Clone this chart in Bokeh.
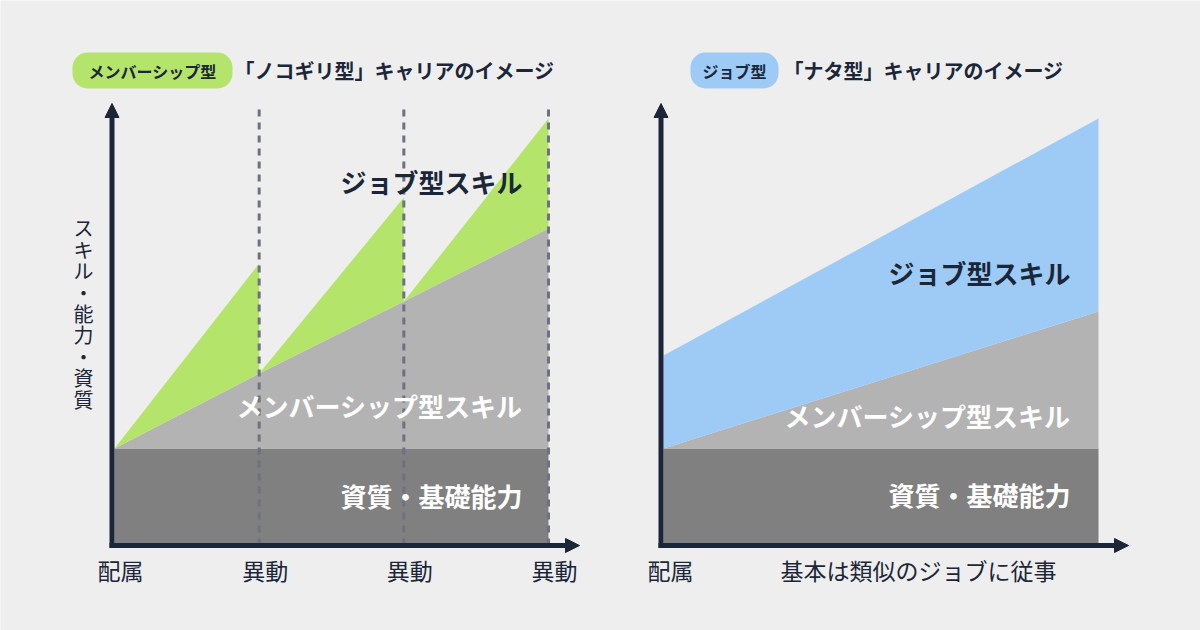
from bokeh.plotting import figure
from bokeh.models import Range1d, Arrow, NormalHead
from bokeh.core.properties import value
from bokeh.embed import file_html
from bokeh.resources import INLINE

BG = "#eeeeee"
NAVY = "#1b2639"
DARK = "#808080"
LIGHT = "#b3b3b3"
GREEN = "#b4e46a"
BLUE = "#9ecbf5"
DASH = "#6f7080"
FONT = "Noto Sans CJK JP"

# ---- Left panel: 「ノコギリ型」 (membership type) ----
saw_stages = [0, 1, 2, 3]
saw_ticks = ["配属", "異動", "異動", "異動"]
saw_base = 0.97
saw_member = [0.97, 1.72, 2.44, 3.17]
saw_job_peak = [0.97, 2.82, 3.48, 4.27]
saw_badge = "メンバーシップ型"
saw_title = "「ノコギリ型」キャリアのイメージ"
y_label = "スキル・能力・資質"

# ---- Right panel: 「ナタ型」 (job type) ----
nata_x = [0.0, 1.0]
nata_tick_pos = [0.0, 0.57]
nata_ticks = ["配属", "基本は類似のジョブに従事"]
nata_base = 0.97
nata_member = [0.97, 2.34]
nata_job = [1.90, 4.27]
nata_badge = "ジョブ型"
nata_title = "「ナタ型」キャリアのイメージ"

area_labels = ["ジョブ型スキル", "メンバーシップ型スキル", "資質・基礎能力"]

Y0, Y1 = -0.85, 5.45  # 100 px per unit
W, H = 1200, 630

ppuL = 434 / 3          # px per stage, left panel
xl0 = -114 / ppuL
ppuR = 435              # px per unit, right panel
xr0 = -663 / ppuR

p = figure(width=W, height=H, x_range=Range1d(xl0, xl0 + W / ppuL), y_range=Range1d(Y0, Y1),
           output_backend="svg", toolbar_location=None, min_border=0,
           x_axis_location=None, y_axis_location=None,
           background_fill_color=BG, border_fill_color=BG, outline_line_color=None)
p.extra_x_ranges = {"r": Range1d(xr0, xr0 + W / ppuR)}
p.grid.visible = False


def axes(xmin, xtip, ytip, ppu, rn="default"):
    ax = xmin - 2.5 / ppu
    for xs, ys, xe, ye in [(ax, -0.025, ax, ytip), (xmin - 5 / ppu, 0, xtip, 0)]:
        p.add_layout(Arrow(x_start=xs, y_start=ys, x_end=xe, y_end=ye, x_range_name=rn,
                           line_color=NAVY, line_width=5,
                           end=NormalHead(size=14, fill_color=NAVY, line_color=NAVY)))


def txt(x, y, t, size, color=NAVY, bold=True, align="center", rn="default", **kw):
    p.text(x=[x], y=[y], text=[t], text_font=value(FONT), text_font_size=f"{size}px",
           text_font_style="bold" if bold else "normal", text_color=color,
           text_align=align, text_baseline="middle", x_range_name=rn, **kw)


# ---------- Left panel ----------
p.varea(x=[saw_stages[0], saw_stages[-1]], y1=[0, 0], y2=[saw_base, saw_base], fill_color=DARK)
p.varea(x=saw_stages, y1=[saw_base] * len(saw_stages), y2=saw_member, fill_color=LIGHT)
gx, gy = [], []
for i in range(1, len(saw_stages)):
    gx.append([saw_stages[i - 1], saw_stages[i], saw_stages[i]])
    gy.append([saw_member[i - 1], saw_job_peak[i], saw_member[i]])
p.patches(xs=gx, ys=gy, fill_color=GREEN, line_color=None)
p.segment(x0=saw_stages[1:], y0=[0] * 3, x1=saw_stages[1:], y1=[4.38] * 3,
          line_color=DASH, line_width=3, line_dash="7 6")
axes(saw_stages[0], saw_stages[-1] + 31 / ppuL, 4.42, ppuL)
for s, t in zip(saw_stages, saw_ticks):
    txt(s + 6 / ppuL, -0.24, t, 23, bold=False)
p.text(x=[-31 / ppuL], y=[2.32], text=["\n".join(y_label)], text_font=value(FONT),
       text_font_size="20px", text_color=NAVY, text_align="center",
       text_baseline="middle", text_line_height=0.74)
rx = saw_stages[-1] - 26 / ppuL
txt(rx, 3.64, area_labels[0], 26, align="right")
txt(rx, 1.40, area_labels[1], 26, color="white", align="right")
txt(rx, 0.50, area_labels[2], 26, color="white", align="right")
txt(-42 / ppuL, 4.75, saw_badge, 16, align="left", background_fill_color=GREEN,
    border_radius=15, padding=dict(left=16, right=16, top=6, bottom=6))
txt(120 / ppuL, 4.75, saw_title, 20, align="left")

# ---------- Right panel ----------
p.varea(x=nata_x, y1=[0, 0], y2=[nata_base, nata_base], fill_color=DARK, x_range_name="r")
p.varea(x=nata_x, y1=[nata_base, nata_base], y2=nata_member, fill_color=LIGHT, x_range_name="r")
p.varea(x=nata_x, y1=nata_member, y2=nata_job, fill_color=BLUE, x_range_name="r")
axes(nata_x[0], nata_x[-1] + 30 / ppuR, 4.42, ppuR, rn="r")
for s, t in zip(nata_tick_pos, nata_ticks):
    txt(s + 7 / ppuR, -0.24, t, 23, bold=False, rn="r")
rxr = nata_x[-1] - 28 / ppuR
txt(rxr, 2.73, area_labels[0], 26, align="right", rn="r")
txt(rxr, 1.30, area_labels[1], 26, color="white", align="right", rn="r")
txt(rxr, 0.51, area_labels[2], 26, color="white", align="right", rn="r")
txt(27 / ppuR, 4.75, nata_badge, 16, align="left", background_fill_color=BLUE,
    border_radius=15, padding=dict(left=12, right=12, top=6, bottom=6), rn="r")
txt(120 / ppuR, 4.75, nata_title, 20, align="left", rn="r")

open("out.html", "w").write(file_html(p, INLINE))
